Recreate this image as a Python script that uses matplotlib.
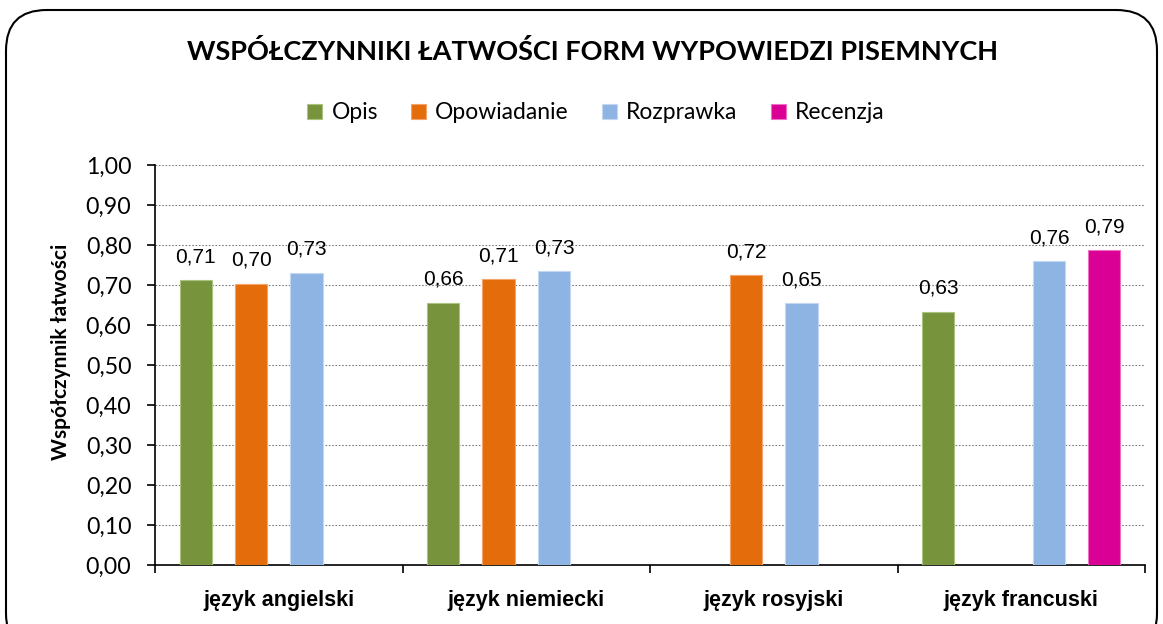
import numpy as np
import matplotlib
matplotlib.use("Agg")
import matplotlib.pyplot as plt
from matplotlib.patches import FancyBboxPatch

categories = ["język angielski", "język niemiecki", "język rosyjski", "język francuski"]
series_names = ["Opis", "Opowiadanie", "Rozprawka", "Recenzja"]
opis = [0.712, 0.656, np.nan, 0.633]
opowiadanie = [0.703, 0.714, 0.724, np.nan]
rozprawka = [0.731, 0.734, 0.654, 0.759]
recenzja = [np.nan, np.nan, np.nan, 0.787]
series_values = [opis, opowiadanie, rozprawka, recenzja]
colors = ["#77933C", "#E46C0A", "#8EB4E3", "#DA0096"]
edge_colors = ["#A9C47F", "#F4A36A", "#C3D7F1", "#EE6FC4"]
y_ticks = [0.0, 0.1, 0.2, 0.3, 0.4, 0.5, 0.6, 0.7, 0.8, 0.9, 1.0]

W, H = 1163, 624
fig = plt.figure(figsize=(W / 100, H / 100), dpi=100)

# rounded frame (bottom edge lies outside the image, as in the reference)
frame = FancyBboxPatch((6 / W, -30 / H), (W - 12) / W, (H - 10 + 30) / H,
                       boxstyle="round,pad=0,rounding_size=0.035",
                       transform=fig.transFigure, facecolor="none",
                       edgecolor="black", linewidth=1.5, zorder=0,
                       mutation_aspect=W / H)
fig.patches.append(frame)

ax = fig.add_axes([155 / W, 1 - 565 / H, (1145 - 155) / W, 400 / H])
ax.set_facecolor("none")

x = np.arange(len(categories))
slot = 0.224
bw = 0.13
for i, (name, vals) in enumerate(zip(series_names, series_values)):
    pos = x + (i - 1.5) * slot
    v = np.array(vals, dtype=float)
    mask = ~np.isnan(v)
    ax.bar(pos[mask], v[mask], width=bw, color=colors[i],
           edgecolor=edge_colors[i], linewidth=0.8, label=name, zorder=3)
    for px, pv in zip(pos[mask], v[mask]):
        ax.annotate(f"{pv:.2f}".replace(".", ","), (px, pv), xytext=(0, 17),
                    textcoords="offset points", ha="center", va="center",
                    fontsize=15, family=["Liberation Sans Narrow", "Liberation Sans"],
                    color="black")

ax.set_xlim(-0.5, 3.5)
ax.set_ylim(0, 1.0)
ax.set_yticks(y_ticks)
ax.set_yticklabels([f"{t:.2f}".replace(".", ",") for t in y_ticks],
                   fontsize=16.7, family="Lato")
ax.yaxis.grid(True, linestyle=(0, (1.5, 1.5)), color="#808080", linewidth=0.8, zorder=0)
ax.set_axisbelow(True)

ax.set_xticks([-0.5, 0.5, 1.5, 2.5, 3.5])
ax.set_xticklabels([])
ax.set_xticks(x, minor=True)
ax.set_xticklabels(categories, minor=True, fontsize=15.5, fontweight="bold",
                   family="Liberation Sans")
ax.tick_params(axis="x", which="minor", length=0, pad=18)
ax.tick_params(axis="x", which="major", length=6, width=1.2, direction="out")
ax.tick_params(axis="y", length=5.5, width=1.2, direction="out", pad=11.5)

for s in ["top", "right"]:
    ax.spines[s].set_visible(False)
for s in ["left", "bottom"]:
    ax.spines[s].set_linewidth(1.2)

fig.text(61 / W, 1 - 352 / H, "Współczynnik łatwości", rotation=90,
         ha="center", va="center", fontsize=15, fontweight="bold", family="Lato")

fig.text(592 / W, 1 - 52 / H, "WSPÓŁCZYNNIKI ŁATWOŚCI FORM WYPOWIEDZI PISEMNYCH",
         ha="center", va="center", fontsize=19.5, fontweight="bold", family="Lato")

fig.legend(loc="center", bbox_to_anchor=(596 / W, 1 - 113 / H), ncol=4,
           frameon=False, prop={"family": "Lato", "size": 16.5},
           handlelength=0.65, handleheight=0.65, handletextpad=0.4,
           columnspacing=1.45)

fig.savefig("out.png", dpi=100)
